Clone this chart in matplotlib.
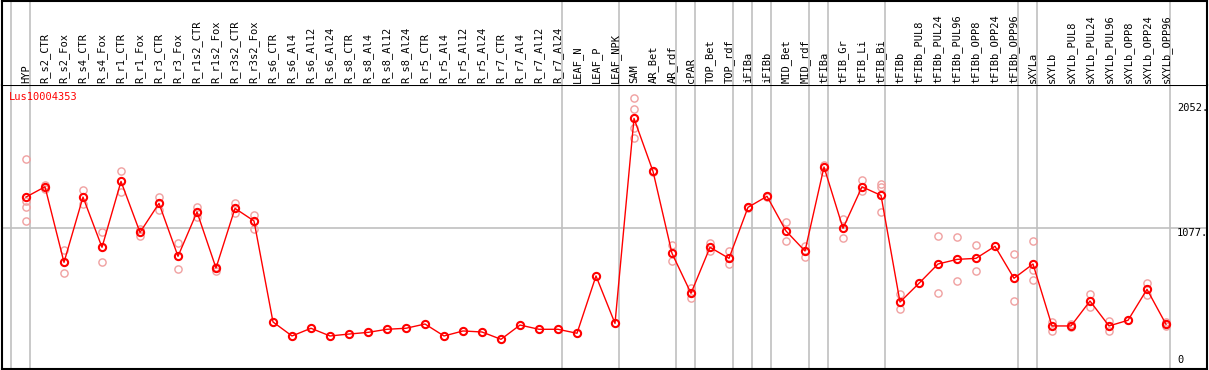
import matplotlib
matplotlib.use("Agg")
import matplotlib.pyplot as plt

# sample names (columns)
samples = ["HYP", "R_s2_CTR", "R_s2_Fox", "R_s4_CTR", "R_s4_Fox", "R_r1_CTR", "R_r1_Fox",
           "R_r3_CTR", "R_r3_Fox", "R_r1s2_CTR", "R_r1s2_Fox", "R_r3s2_CTR", "R_r3s2_Fox",
           "R_s6_CTR", "R_s6_Al4", "R_s6_Al12", "R_s6_Al24", "R_s8_CTR", "R_s8_Al4", "R_s8_Al12",
           "R_s8_Al24", "R_r5_CTR", "R_r5_Al4", "R_r5_Al12", "R_r5_Al24", "R_r7_CTR", "R_r7_Al4",
           "R_r7_Al12", "R_r7_Al24", "LEAF_N", "LEAF_P", "LEAF_NPK", "SAM", "AR_Bet", "AR_rdf",
           "cPAR", "TOP_Bet", "TOP_rdf", "iFIBa", "iFIBb", "MID_Bet", "MID_rdf", "tFIBa",
           "tFIB_Gr", "tFIB_Li", "tFIB_Bi", "tFIBb", "tFIBb_PUL8", "tFIBb_PUL24", "tFIBb_PUL96",
           "tFIBb_OPP8", "tFIBb_OPP24", "tFIBb_OPP96", "sXYLa", "sXYLb", "sXYLb_PUL8",
           "sXYLb_PUL24", "sXYLb_PUL96", "sXYLb_OPP8", "sXYLb_OPP24", "sXYLb_OPP96"]

# mean expression per sample
means = [1320, 1400, 812, 1320, 929, 1442, 1045, 1271, 859, 1204, 768, 1232, 1134,
         348, 239, 299, 239, 254, 267, 291, 299, 332, 239, 278, 270, 213, 324, 291, 291,
         260, 706, 337,
         1932, 1520, 882, 571, 929, 843, 1240, 1326, 1056, 900, 1554, 1077, 1400, 1333,
         503, 649, 799, 835, 843, 937, 688, 799, 317, 317, 511, 317, 361, 602, 330]

# replicate values per sample
replicates = [[1616, 1289, 1245, 1134], [1414, 1382], [910, 727], [1372, 1266], [1048, 815],
              [1520, 1357], [1071, 1020], [1318, 1219], [965, 760], [1243, 1165], [778, 747],
              [1274, 1196], [1180, 1074],
              [], [], [], [], [], [], [], [], [], [], [], [], [], [], [], [], [], [], [],
              [2088, 2003, 1855, 1777], [1525, 1515], [944, 825], [610, 532], [965, 903],
              [900, 797], [1245, 1235], [1330, 1322], [1123, 978], [939, 856], [1569, 1512],
              [1147, 1004], [1453, 1367], [1420, 1395, 1201],
              [566, 447], [], [1017, 573], [1007, 667], [947, 745], [], [877, 511],
              [976, 752, 675], [350, 280], [330, 305], [566, 462], [358, 280], [],
              [649, 558], [348, 315]]

# group separators after these columns
group_ends = [0, 28, 31, 34, 35, 37, 38, 39, 41, 42, 45, 52, 53, 60]

gene = "Lus10004353"
ytick_vals = [2052, 1077, 0]
ytick_text = ["2052.", "1077.", "0"]

W, H = 1209, 370
fig = plt.figure(figsize=(W / 100, H / 100), dpi=100)
mono = "DejaVu Sans Mono"

xl = ((1.5 - 26) / 19, (1207 - 26) / 19)

ax = fig.add_axes([1.5 / W, 1 / H, 1205.5 / W, 284 / H])
lab = fig.add_axes([1.5 / W, 285 / H, 1205.5 / W, 84.5 / H])

for a in (ax, lab):
    a.set_xlim(*xl)
    a.set_xticks([])
    a.set_yticks([])
    a.axvline((10.7 - 26) / 19, color="#c0c0c0", lw=1.2, zorder=0)
    for g in group_ends:
        a.axvline(g + 0.23, color="#c0c0c0", lw=1.2, zorder=0)
    for s in a.spines.values():
        s.set_color("black")
        s.set_linewidth(1.5)
lab.spines["bottom"].set_visible(False)

ax.set_ylim(-18, 2192)
ax.axhline(1077, color="#c0c0c0", lw=1.2, zorder=0)

xs = list(range(len(samples)))
for i, reps in enumerate(replicates):
    ax.plot([i] * len(reps), reps, "o", ms=5.2, mfc="none", mec="#f0a0a0", mew=1.0, zorder=2)
ax.plot(xs, means, "-", color="red", lw=1.0, zorder=3)
ax.plot(xs, means, "o", ms=5.2, mfc="none", mec="red", mew=1.5, zorder=4)

ax.text((9.3 - 26) / 19, 2192 - 12 * 7.78, gene, color="red", fontsize=7.5,
        family=mono, ha="left", va="center")
for v, t in zip(ytick_vals, ytick_text):
    ax.text((1177 - 26) / 19, v if v else 10, t, fontsize=7.5, family=mono,
            ha="left", va="top" if v else "bottom")

lab.set_ylim(0, 84.5)
for i, s in enumerate(samples):
    lab.text(i, 2, s, rotation=90, fontsize=7.5, family=mono, ha="center", va="bottom")

fig.savefig("out.png", dpi=100)
